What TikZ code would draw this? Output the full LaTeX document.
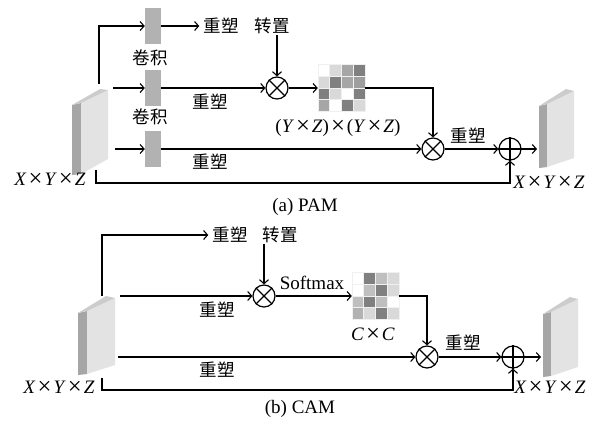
\documentclass[tikz,border=0pt]{standalone}
\usepackage{fontspec}
\setmainfont{Liberation Serif}
\newfontfamily\cjk{Noto Sans CJK SC}
\usetikzlibrary{arrows.meta}
\newcommand\tms{\kern2pt\raisebox{-0.9pt}{\scalebox{1.3}{×}}\kern2pt}
\newcommand\xyz{\textit{X}\tms\textit{Y}\tms\textit{Z}}
\begin{document}
\begin{tikzpicture}[x=1pt,y=-1pt,
  ln/.style={line width=1.2pt},
  arr/.style={ln,-{Straight Barb[length=4pt,width=9pt,line width=1.1pt]}},
  op/.style={circle,draw,line width=1.2pt,minimum size=22pt,inner sep=0pt},
  zh/.style={font=\cjk\fontsize{17.5}{19}\selectfont,inner sep=1pt},
  en/.style={font=\fontsize{19}{21}\selectfont,inner sep=1pt},
  conv/.style={fill=black!30,minimum width=16pt,minimum height=36pt,inner sep=0pt},
  blkside/.style={fill=black!35},
  blkfront/.style={fill=black!11},
  blktop/.style={fill=black!20},
  matbox/.style={minimum width=47pt,minimum height=47pt,inner sep=0pt},
  cell/.style={draw=black!6,line width=0.6pt},
]
\useasboundingbox (0,0) rectangle (594,424);

% ---------- feature blocks ----------
% PAM left
\fill[blkside] (72,105) -- (81,103) -- (81,174) -- (72,175) -- cycle;
\fill[blkfront] (81,103) -- (108,90) -- (108,159) -- (81,174) -- cycle;
\fill[blktop] (72,105) -- (100,89) -- (108,90) -- (81,103) -- cycle;
% PAM right
\fill[blkside] (539,106) -- (547,104) -- (547,167) -- (539,168) -- cycle;
\fill[blkfront] (547,104) -- (574,91) -- (574,158) -- (547,167) -- cycle;
\fill[blktop] (539,106) -- (566,89) -- (574,91) -- (547,104) -- cycle;
% CAM left
\fill[blkside] (78,313) -- (87,311) -- (87,374) -- (78,375) -- cycle;
\fill[blkfront] (87,311) -- (115,298) -- (115,365) -- (87,374) -- cycle;
\fill[blktop] (78,313) -- (106,296) -- (115,298) -- (87,311) -- cycle;
% CAM right
\fill[blkside] (543,314) -- (551,312) -- (551,376) -- (543,377) -- cycle;
\fill[blkfront] (551,312) -- (578,299) -- (578,367) -- (551,376) -- cycle;
\fill[blktop] (543,314) -- (570,297) -- (578,299) -- (551,312) -- cycle;

% ---------- (a) PAM ----------
\node[conv] (c1) at (153,26) {};
\node[conv] (c2) at (153,88) {};
\node[conv] (c3) at (153,149) {};
\node[zh] at (150,58) {卷积};
\node[zh] at (150,117) {卷积};
\coordinate (aUp) at (99,84);
\node[zh,inner sep=4pt] (r1) at (221,26) {重塑};
\draw[arr] (aUp) |- (c1.west);
\draw[arr] (c1.east) -- (r1.west);
\node[zh] (t1) at (272,26) {转置};
\node[op] (m1) at (277,88) {};
\draw[ln] (m1.north west) -- (m1.south east) (m1.north east) -- (m1.south west);
\draw[arr] (m1|-t1.south) -- (m1.north);
\coordinate (a2) at (113,88);
\draw[arr] (a2) -- (c2.west);
\draw[arr] (c2.east) -- (m1.west);
\node[zh] at (210,102) {重塑};
\node[matbox] (mA) at (341.5,88) {};
\foreach \c [count=\i from 0] in {0,15,35,50, 15,50,35,38, 50,15,0,50, 35,0,50,15}{
  \pgfmathtruncatemacro\col{mod(\i,4)}
  \pgfmathtruncatemacro\row{\i/4}
  \filldraw[cell,fill=black!\c] (318+\col*11.75,64.5+\row*11.75) rectangle +(11.75,11.75);
}
\draw[arr] (m1.east) -- (mA.west);
\node[en] at (338,128) {(\textit{Y}\tms\textit{Z})\tms(\textit{Y}\tms\textit{Z})};
\node[op] (m2) at (433,149) {};
\draw[ln] (m2.north west) -- (m2.south east) (m2.north east) -- (m2.south west);
\draw[arr] (mA.east) -| (m2.north);
\coordinate (a3) at (115,149);
\draw[arr] (a3) -- (c3.west);
\draw[arr] (c3.east) -- (m2.west);
\node[zh] at (210,162) {重塑};
\node[op] (p1) at (510,149) {};
\draw[ln] (p1.north) -- (p1.south) (p1.west) -- (p1.east);
\draw[arr] (m2.east) -- (p1.west);
\node[zh] at (468,136) {重塑};
\coordinate (aOut) at (537,149);
\draw[arr] (p1.east) -- (aOut);
\coordinate (aSk) at (96,170);
\coordinate (aSkB) at (96,183);
\draw[arr] (aSk) -- (aSkB) -| (p1.south);
\node[en] at (50,180) {\xyz};
\node[en] at (549,183) {\xyz};
\node[en] at (305,207) {(a) PAM};

% ---------- (b) CAM ----------
\coordinate (bUp) at (102,296);
\node[zh,inner sep=4pt] (r2) at (230,235) {重塑};
\draw[arr] (bUp) |- (r2.west);
\node[zh] (t2) at (280,235) {转置};
\node[op] (n1) at (264,296) {};
\draw[ln] (n1.north west) -- (n1.south east) (n1.north east) -- (n1.south west);
\draw[arr] (n1|-t2.south) -- (n1.north);
\coordinate (b2) at (120,296);
\draw[arr] (b2) -- (n1.west);
\node[zh] at (217,310) {重塑};
\node[matbox] (mB) at (375.5,296) {};
\foreach \c [count=\i from 0] in {0,50,25,15, 0,25,50,15, 25,50,25,0, 30,15,50,15}{
  \pgfmathtruncatemacro\col{mod(\i,4)}
  \pgfmathtruncatemacro\row{\i/4}
  \filldraw[cell,fill=black!\c] (352+\col*11.75,272.5+\row*11.75) rectangle +(11.75,11.75);
}
\draw[arr] (n1.east) -- (mB.west);
\node[en] at (312,283) {Softmax};
\node[en] at (373,335) {\textit{C}\tms\textit{C}};
\node[op] (n2) at (427,357) {};
\draw[ln] (n2.north west) -- (n2.south east) (n2.north east) -- (n2.south west);
\draw[arr] (mB.east) -| (n2.north);
\coordinate (b3) at (118,357);
\draw[arr] (b3) -- (n2.west);
\node[zh] at (217,370) {重塑};
\node[op] (p2) at (513,357) {};
\draw[ln] (p2.north) -- (p2.south) (p2.west) -- (p2.east);
\draw[arr] (n2.east) -- (p2.west);
\node[zh] at (463,343) {重塑};
\coordinate (bOut) at (541,357);
\draw[arr] (p2.east) -- (bOut);
\coordinate (bSk) at (102,378);
\coordinate (bSkB) at (102,390);
\draw[arr] (bSk) -- (bSkB) -| (p2.south);
\node[en] at (59,388) {\xyz};
\node[en] at (550,388) {\xyz};
\node[en] at (300,409) {(b) CAM};
\end{tikzpicture}
\end{document}
